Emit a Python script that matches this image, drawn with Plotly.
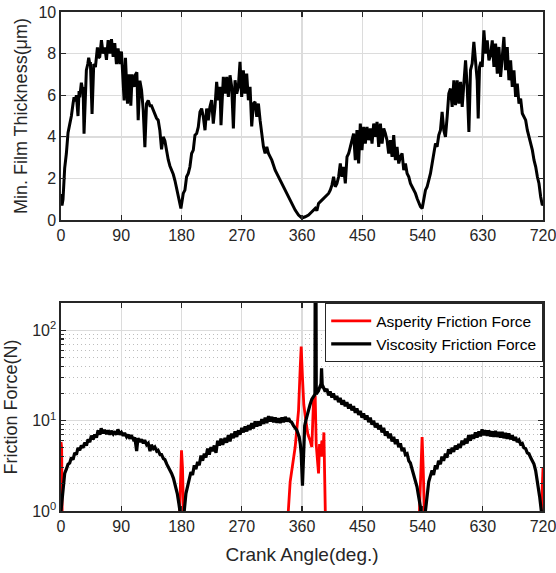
import plotly.graph_objects as go

# ---------------- data ----------------
x_ticks = [0, 90, 180, 270, 360, 450, 540, 630, 720]
thk_ticks = [0, 2, 4, 6, 8, 10]
force_ticks = [1, 10, 100]
force_tick_text = ["10<sup>0</sup>", "10<sup>1</sup>", "10<sup>2</sup>"]
force_minor = [2, 3, 4, 5, 6, 7, 8, 9, 20, 30, 40, 50, 60, 70, 80, 90, 200]

# Min. film thickness (um), read in four segments
film_angle_a = [0, 1.5, 3, 5.5, 8, 10.5, 13, 15.5, 18, 19.5,
                21, 23, 25.4, 27, 28, 30.4, 32, 33, 34.4, 36,
                37.9, 40, 41.4, 43, 43.9, 46.4, 48, 48.9, 51.4, 53,
                54.4, 56, 57.9, 60.4, 62.9, 65.4, 67.9, 70.4, 72.9, 75.4,
                77.9, 80.3, 82.8, 85.3, 87.8, 90.3, 92.8, 94.3, 96.3, 99.3,
                101.8, 104.3, 106.3, 109.3, 111.3, 113.3, 115.3, 117.8, 120.3, 122.8,
                125.3, 127.8, 130.3, 132.8, 135.2, 137.7, 140.2, 142.7, 145.2, 147.7,
                150.2, 152.7, 155.2, 157.7, 160.2, 162.7, 165.2, 167.7, 170.2, 172.7,
                175.1, 177, 179.1]
film_thk_a = [1.25, 0.7, 1.0, 2.5, 3.2, 4.2, 4.6, 5.0, 5.6, 5.9,
              5.7, 6.0, 5.0, 6.2, 5.9, 6.6, 6.3, 6.4, 4.15, 6.2,
              7.2, 7.5, 7.8, 7.5, 7.6, 5.1, 7.3, 7.5, 7.35, 8.0,
              8.3, 7.8, 7.85, 8.65, 8.0, 8.3, 7.7, 8.65, 8.0, 8.7,
              7.85, 8.5, 7.5, 8.25, 7.5, 8.1, 6.8, 5.75, 7.8, 5.6,
              7.0, 5.5, 7.0, 6.4, 7.0, 7.1, 4.8, 6.7, 6.25, 5.3,
              3.5, 5.6, 5.75, 5.5, 5.5, 5.3, 5.1, 4.9, 4.8, 4.3,
              3.4, 4.0, 3.8, 3.3, 2.9, 2.6, 2.4, 2.2, 1.9, 1.5,
              1.1, 0.8, 0.56]
film_angle_b = [182.6, 185.1, 187.6, 190.1, 192.6, 195.1, 197.6, 200.1, 202.6, 205.1,
                207.6, 210.1, 212.6, 215.1, 217.6, 220.0, 222.5, 225.0, 227.5, 230.0,
                232.5, 235.0, 237.5, 239.0, 242.5, 245.0, 247.5, 250.0, 252.5, 255.0,
                257.5, 260.0, 262.5, 264.9, 267.4, 269.9, 272.4, 274.9, 277.4, 279.9,
                282.4, 284.9, 287.4, 289.9, 292.4, 294.9, 297.4, 299.9, 302.4, 304.9,
                307.4, 309.9, 314.9, 319.9, 324.9, 329.8, 334.8, 339.8, 344.8, 349.8,
                354.8, 359.8]
film_thk_b = [1.28, 1.44, 2.08, 2.24, 2.56, 3.2, 3.36, 4.08, 4.16, 4.48,
              5.2, 5.36, 4.96, 4.32, 5.36, 4.8, 5.44, 5.76, 4.64, 5.44,
              6.64, 5.76, 6.4, 4.56, 6.88, 6.08, 6.88, 5.92, 6.96, 6.4,
              4.4, 6.72, 6.08, 6.4, 7.6, 5.92, 7.2, 6.08, 7.04, 5.76,
              6.4, 4.5, 5.6, 5.68, 4.96, 5.6, 4.8, 4.08, 3.52, 3.2,
              3.52, 3.2, 2.88, 2.4, 2.08, 1.76, 1.44, 1.12, 0.8, 0.48,
              0.24, 0.1]
film_angle_c = [364.8, 369.8, 374.8, 379.8, 382.2, 384.7, 389.7, 394.7, 399.7, 402.2,
                404.7, 407.2, 409.7, 412.2, 414.7, 417.2, 419.7, 422.2, 424.7, 427.2,
                429.7, 432.2, 434.6, 437.1, 439.6, 442.1, 444.6, 447.1, 449.6, 452.1,
                454.6, 457.1, 459.6, 462.1, 464.6, 467.1, 469.6, 472.1, 474.6, 477.1,
                479.6, 482.1, 484.5, 487.0, 489.5, 492.0, 494.5, 497.0, 499.5, 502.0,
                504.5, 507.0, 509.5, 512.0, 514.5, 517.0, 519.5, 522.0, 524.5, 527.0,
                529.5, 532.0, 534.5, 537.0, 539.5]
film_thk_c = [0.16, 0.24, 0.4, 0.56, 0.45, 0.8, 0.96, 1.12, 1.28, 1.44,
              1.68, 2.08, 1.6, 1.76, 2.08, 2.72, 2.08, 2.56, 1.76, 3.04,
              3.2, 3.52, 3.84, 4.16, 2.88, 4.32, 2.72, 4.64, 3.36, 4.48,
              3.68, 4.48, 3.84, 4.4, 3.68, 4.64, 4.0, 4.72, 3.52, 4.64,
              3.68, 4.4, 4.16, 3.84, 3.2, 3.84, 3.04, 4.08, 2.88, 3.52,
              2.72, 3.04, 3.2, 2.4, 2.72, 2.24, 2.08, 1.76, 1.6, 1.44,
              1.28, 1.04, 0.8, 0.64, 0.56]
film_angle_d = [541.9, 544.4, 546.9, 549.4, 551.9, 554.4, 556.9, 559.4, 561.8, 564.3,
                566.8, 569.3, 571.8, 574.3, 576.8, 579.3, 581.8, 584.3, 586.8, 589.3,
                591.8, 594.3, 596.8, 599.3, 601.8, 604.3, 606.8, 609.3, 611.7, 614.2,
                616.7, 619.2, 621.7, 623.2, 625.2, 627.2, 629.2, 631.7, 634.2, 636.7,
                639.2, 641.7, 644.2, 646.7, 649.2, 651.7, 654.2, 656.7, 659.2, 661.6,
                664.1, 666.6, 669.1, 671.6, 674.1, 676.6, 679.1, 681.6, 684.1, 686.6,
                689.1, 691.6, 694.1, 696.6, 699.1, 701.6, 704.1, 706.6, 709.1, 711.6,
                714.0, 716.5, 719.0, 720]
film_thk_d = [0.96, 1.44, 1.6, 1.92, 2.24, 2.72, 3.2, 3.68, 3.52, 4.08,
              4.32, 5.2, 4.32, 4.0, 4.96, 6.08, 6.32, 5.44, 6.72, 5.52,
              6.72, 5.6, 6.64, 5.44, 6.56, 7.68, 6.4, 4.24, 7.2, 7.52,
              8.56, 7.68, 6.72, 4.88, 7.36, 7.6, 7.36, 9.12, 8.0, 8.64,
              7.68, 7.92, 8.64, 7.36, 8.48, 7.04, 8.32, 6.88, 7.84, 8.8,
              7.2, 8.32, 6.72, 7.68, 6.4, 7.2, 5.92, 6.56, 5.6, 5.84,
              5.12, 4.96, 4.8, 4.32, 4.0, 3.68, 3.36, 2.88, 2.56, 2.08,
              1.76, 1.12, 0.72, 0.75]

# Viscosity friction force (N)
visc_angle_a = [0, 1.5, 3, 5.5, 8, 10.5, 13, 15.5, 18, 20.5,
                23, 25.4, 28, 30.4, 33, 35.4, 38, 40.4, 43, 45.4,
                48, 50.4, 53, 55.4, 58, 60, 63, 65, 68, 70.4,
                73, 75, 78, 80.4, 83, 85, 88, 90.3, 93, 95,
                98, 100.3, 103, 105, 108, 110.3, 113, 115, 118, 120.3,
                123, 125, 128, 130.3, 133, 135, 138, 140.2, 143, 145,
                148, 150.2, 153, 155.2, 158, 160.2, 163, 165.2, 168, 170.2,
                172, 173.7, 176.1, 178.1, 180]
visc_force_a = [1.0, 1.3, 1.85, 2.6, 2.9, 3.3, 3.4, 3.9, 3.7, 4.4,
                4.2, 5.0, 4.7, 5.3, 5.0, 5.7, 5.3, 6.2, 5.8, 6.8,
                6.2, 7.0, 6.5, 7.8, 7.0, 8.2, 7.2, 7.9, 7.1, 7.8,
                7.0, 7.7, 7.1, 7.6, 7.0, 8.0, 7.0, 7.4, 6.8, 7.3,
                6.6, 7.0, 6.3, 6.9, 6.2, 6.5, 4.6, 6.4, 5.8, 6.2,
                5.6, 6.1, 5.4, 5.6, 4.6, 5.4, 4.9, 5.1, 4.6, 4.7,
                4.2, 4.2, 3.8, 3.7, 3.3, 3.1, 2.8, 2.6, 2.3, 2.0,
                1.75, 1.56, 1.2, 0.95, 0.5]
visc_angle_b = [182, 184.1, 186.6, 189.1, 191.5, 194.1, 196.5, 199.1, 201.5, 204.1,
                206.5, 209.1, 211.5, 214.1, 216.5, 219, 221.5, 224, 226.5, 229,
                231.5, 234, 236.5, 239, 241.5, 245, 247.5, 250, 252.5, 255,
                257.5, 260, 262.5, 265, 267.5, 270, 272.5, 275, 277.5, 280,
                282.5, 285, 287.5, 290, 292.5, 295, 297.5, 300, 302.5, 305,
                307.5, 310, 312.5, 315, 317.5, 320, 322.5, 325, 327.5, 330,
                332.5, 335, 337.5, 340, 342.3, 344.5, 347.3, 350, 352.3, 354,
                355.8, 357.5, 358.8, 360.7, 362.7, 364, 365.7, 368, 369.7, 372,
                374.7, 377.7, 379.3, 379.8, 380.8, 381.3, 383, 384.7, 386, 387.2,
                388.3, 389.2, 390.2, 392.2, 394.7]
visc_force_b = [0.8, 1.0, 1.56, 1.93, 2.2, 2.7, 2.5, 3.2, 2.9, 3.5,
                3.2, 4.1, 3.6, 4.3, 3.9, 4.9, 4.2, 5.1, 4.6, 5.3,
                4.4, 6.0, 5.3, 6.3, 5.4, 6.4, 5.7, 6.9, 5.9, 7.2,
                6.4, 7.6, 6.6, 7.8, 7.0, 8.3, 7.4, 8.6, 7.6, 8.9,
                7.9, 9.4, 8.2, 9.8, 8.6, 9.8, 8.8, 10.4, 9.2, 10.8,
                9.4, 11.2, 9.8, 11.0, 9.6, 10.8, 9.5, 10.6, 9.4, 10.8,
                9.6, 11.0, 9.8, 10.6, 9.8, 9.6, 8.8, 8.3, 7.8, 7.2,
                6.6, 5.5, 4.3, 1.9, 7.1, 8.8, 10, 11.8, 12.9, 15,
                17.3, 18.8, 19.5, 1000, 1000, 19.7, 20.5, 21.4, 23, 24.2,
                24, 38, 25, 23.3, 21.0]
visc_angle_c = [397.2, 399.7, 402, 404.7, 407, 409.7, 412, 414.6, 417, 419.6,
                422, 424.6, 427, 429.6, 432, 434.6, 437, 439.6, 442, 444.6,
                447, 449.6, 452, 454.6, 457, 459.6, 462, 464.5, 467, 469.5,
                472, 474.5, 477, 479.5, 482, 484.5, 487, 489.5, 492, 494.5,
                497, 499.5, 502, 504.4, 507, 509.5, 512, 514.4, 517, 519.5,
                521.9, 524.5, 526.9, 529.5, 531.8, 533.5, 535.4, 537, 538.4, 540]
visc_force_c = [22.5, 19.0, 21.0, 18.0, 20.0, 17.0, 18.8, 16.0, 17.8, 15.0,
                16.8, 14.4, 16.0, 13.6, 15.2, 13.0, 14.5, 12.2, 13.6, 11.6,
                12.8, 10.8, 12.0, 10.3, 11.4, 9.6, 10.8, 9.0, 10.0, 8.4,
                9.4, 8.0, 8.9, 7.4, 8.3, 6.8, 7.6, 6.4, 7.2, 5.9,
                6.6, 5.5, 6.2, 5.1, 5.6, 4.6, 5.0, 4.2, 4.3, 3.6,
                3.4, 2.9, 2.6, 2.2, 1.85, 1.55, 1.3, 1.1, 0.8, 0.5]
visc_angle_d = [542, 544.3, 546.8, 549.3, 551.5, 554.3, 556.5, 559.3, 561.5, 564,
                566.8, 569, 571.5, 574.3, 576.5, 579, 581.5, 584.3, 586.5, 589,
                591.5, 594.3, 596.5, 599, 601.5, 604.2, 606.5, 609, 611.5, 614.2,
                616.5, 619, 621.5, 624.2, 626.5, 629, 631.5, 634.2, 636.5, 639,
                641.5, 644.2, 646.5, 649, 651.5, 654.1, 656.5, 659, 661.5, 664.1,
                666.5, 669, 671.5, 674.1, 676.5, 679, 681.5, 684.1, 686.5, 689,
                691.5, 694.1, 696.5, 699, 701.5, 704, 706.5, 709, 711.5, 713,
                715, 717.5, 719, 720]
visc_force_d = [0.7, 1.0, 1.56, 2.1, 2.4, 2.8, 2.5, 3.2, 2.9, 3.6,
                3.3, 4.0, 3.6, 4.3, 3.9, 4.8, 4.3, 5.0, 4.5, 5.3,
                4.8, 5.5, 5.0, 6.0, 5.4, 6.3, 5.6, 6.9, 6.0, 7.0,
                6.3, 7.4, 6.5, 7.6, 6.7, 8.0, 6.9, 7.8, 6.8, 7.8,
                6.7, 7.6, 6.6, 7.7, 6.6, 7.5, 6.5, 7.5, 6.4, 7.3,
                6.3, 7.2, 6.2, 6.9, 6.0, 6.6, 5.8, 6.1, 5.5, 5.6,
                5.0, 4.9, 4.4, 4.3, 3.9, 3.6, 3.3, 2.8, 2.2, 1.8,
                1.44, 1.0, 0.7, 0.9]

# Asperity friction force (N); None = zero (not drawn on log axis)
asp_angle = [0, 1, 2, None, 176, 178.5, 180, 181.5, 184, None,
             337, 342.3, 349.8, 354.8, 357.3, 358.8, 360.7, 362.7, 365.7, 368.7,
             372.2, 374.7, 377.2, 379.7, 381.2, 383.2, 384.7, 386.2, 387.7, 389.7,
             391.2, 392.7, 393.7, 395.5, None, 534, 537, 539.4, 541, 544, None,
             716, 718, 720]
asp_force = [5.8, 5.0, 0.5, None, 0.5, 2.5, 4.7, 3.0, 0.5, None,
             0.5, 2.1, 5.1, 12.9, 38, 66, 30, 15, 10, 7.1,
             6.0, 5.1, 16.6, 19, 5.5, 3.6, 2.6, 5.5, 4.0, 6.0,
             4.0, 7.4, 2.6, 0.5, None, 0.5, 2.5, 6.6, 3.0, 0.5, None,
             0.5, 1.5, 3.0]

film_angle = film_angle_a + film_angle_b + film_angle_c + film_angle_d
film_thk = film_thk_a + film_thk_b + film_thk_c + film_thk_d
visc_angle = visc_angle_a + visc_angle_b + visc_angle_c + visc_angle_d
visc_force = visc_force_a + visc_force_b + visc_force_c + visc_force_d

# ---------------- figure ----------------
FONT = "Liberation Sans, Arial, Helvetica, sans-serif"
AX = "#262626"
GRID = "#dcdcdc"

fig = go.Figure()
fig.add_trace(go.Scatter(x=film_angle, y=film_thk, mode="lines",
                         line=dict(color="black", width=3),
                         xaxis="x", yaxis="y", showlegend=False))
fig.add_trace(go.Scatter(x=asp_angle, y=asp_force, mode="lines",
                         name="Asperity Friction Force",
                         line=dict(color="#ff0000", width=2.8),
                         connectgaps=False, xaxis="x2", yaxis="y2"))
fig.add_trace(go.Scatter(x=visc_angle, y=visc_force, mode="lines",
                         name="Viscosity Friction Force",
                         line=dict(color="black", width=3.2),
                         xaxis="x2", yaxis="y2"))

axis_common = dict(showline=True, linecolor=AX, linewidth=1.6, mirror="ticks",
                   ticks="inside", ticklen=5, tickwidth=1.2, tickcolor=AX,
                   showgrid=True, gridcolor=GRID, gridwidth=1.4, zeroline=False,
                   automargin=False, ticklabeloverflow="allow",
                   tickfont=dict(family=FONT, size=16, color=AX))

fig.update_layout(
    width=556, height=573,
    margin=dict(l=61, r=13, t=12, b=62),
    paper_bgcolor="white", plot_bgcolor="white",
    font=dict(family=FONT, color=AX),
    xaxis=dict(domain=[0, 1], anchor="y", range=[0, 720], tickmode="array",
               tickvals=x_ticks, **axis_common),
    yaxis=dict(domain=[0.583, 1], anchor="x", range=[0, 10], tickmode="array",
               tickvals=thk_ticks,
               title=dict(text="Min. Film Thickness(μm)", font=dict(family=FONT, size=18, color=AX),
                          standoff=6),
               **axis_common),
    xaxis2=dict(domain=[0, 1], anchor="y2", range=[0, 720], tickmode="array",
                tickvals=x_ticks,
                title=dict(text="Crank Angle(deg.)", font=dict(family=FONT, size=19, color=AX),
                           standoff=14),
                **axis_common),
    yaxis2=dict(domain=[0, 0.4168], anchor="x2", type="log", range=[0, 2.301],
                tickmode="array", tickvals=force_ticks, ticktext=force_tick_text,
                minor=dict(tickmode="array", tickvals=force_minor, ticks="inside",
                           ticklen=3, tickcolor=AX, showgrid=True, gridcolor="#bdbdbd",
                           griddash="1px,3px", gridwidth=1),
                title=dict(text="Friction Force(N)", font=dict(family=FONT, size=18, color=AX),
                           standoff=10),
                **axis_common),
    legend=dict(x=1, y=0.4168, xanchor="right", yanchor="top",
                bgcolor="white", bordercolor=AX, borderwidth=1.2,
                font=dict(family=FONT, size=15.5, color="black"),
                tracegroupgap=0, itemwidth=40),
)

fig.write_html("out.html", config={"displayModeBar": False, "staticPlot": True},
               post_script="document.body.style.margin='0';document.body.style.overflow='hidden';")
